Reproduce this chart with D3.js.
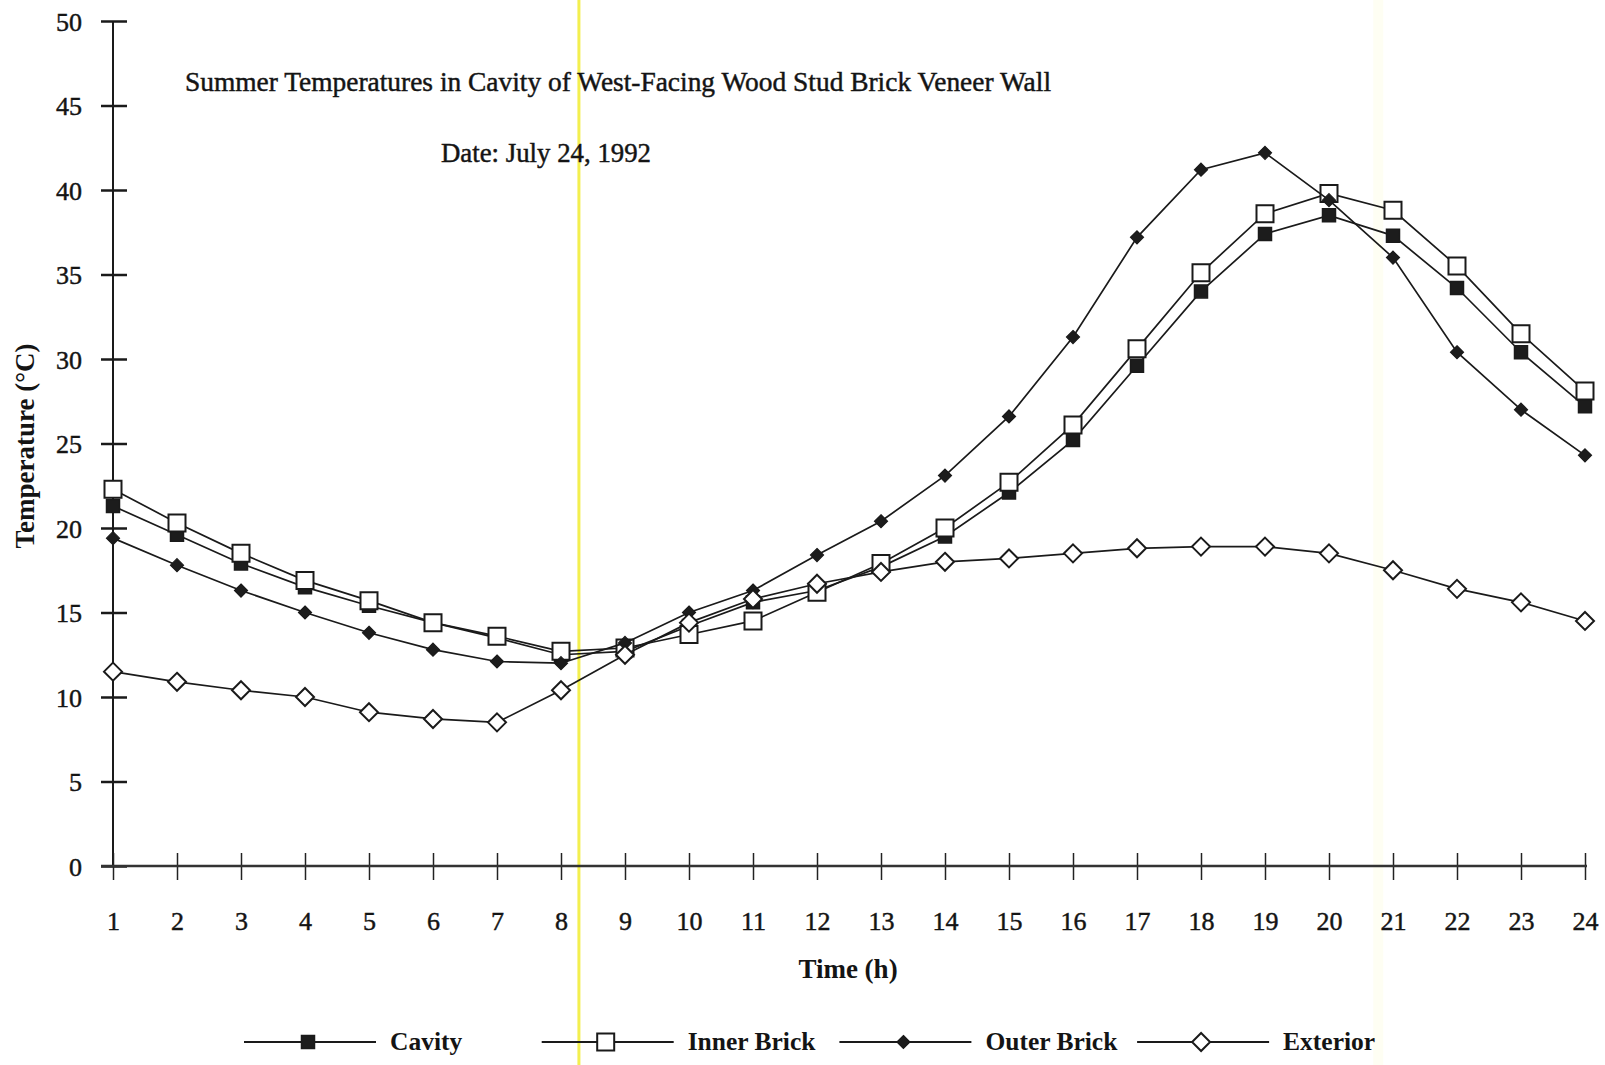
<!DOCTYPE html>
<html>
<head>
<meta charset="utf-8">
<title>Summer Temperatures in Cavity</title>
<script src="https://cdn.jsdelivr.net/npm/d3@7"></script>
<style>
  body { margin: 0; background: #fff; }
  svg text { font-family: "Liberation Serif", "Times New Roman", serif; fill: #141414; }
  .heavy { stroke: #141414; stroke-width: 0.45px; }
</style>
</head>
<body>
<script>
// hours on the x axis
var hours = d3.range(1, 25);
var yTicks = [0, 5, 10, 15, 20, 25, 30, 35, 40, 45, 50];

// temperatures (deg C)
var cavity   = [21.3, 19.6, 17.9, 16.5, 15.4, 14.4, 13.5, 12.5, 12.7, 14.2, 15.6, 16.3,
                17.7, 19.5, 22.1, 25.2, 29.6, 34.0, 37.4, 38.5, 37.3, 34.2, 30.4, 27.2];
var inner    = [22.3, 20.3, 18.5, 16.9, 15.7, 14.4, 13.6, 12.7, 12.9, 13.7, 14.5, 16.2,
                17.9, 20.0, 22.7, 26.1, 30.6, 35.1, 38.6, 39.8, 38.8, 35.5, 31.5, 28.1];
var outer    = [19.4, 17.8, 16.3, 15.0, 13.8, 12.8, 12.1, 12.0, 13.2, 15.0, 16.3, 18.4,
                20.4, 23.1, 26.6, 31.3, 37.2, 41.2, 42.2, 39.4, 36.0, 30.4, 27.0, 24.3];
var exterior = [11.5, 10.9, 10.4, 10.0, 9.1, 8.7, 8.5, 10.4, 12.5, 14.4, 15.8, 16.7,
                17.4, 18.0, 18.2, 18.5, 18.8, 18.9, 18.9, 18.5, 17.5, 16.4, 15.6, 14.5];

var seriesNames = ["Cavity", "Inner Brick", "Outer Brick", "Exterior"];

var width = 1605, height = 1065;

var svg = d3.select("body").append("svg")
    .attr("width", width)
    .attr("height", height);

var x = d3.scaleLinear().domain([1, 24]).range([113, 1585]);
var y = d3.scaleLinear().domain([0, 50]).range([866, 21]);

// scanner artefacts (yellow highlighter streaks)
svg.append("line")
    .attr("x1", x(20.77)).attr("x2", x(20.77)).attr("y1", 0).attr("y2", height)
    .attr("stroke", "#fefef3").attr("stroke-width", 10);
svg.append("line")
    .attr("x1", x(8.28)).attr("x2", x(8.28)).attr("y1", 0).attr("y2", height)
    .attr("stroke", "#f3ef4f").attr("stroke-width", 3);

// y axis
var yAxis = svg.append("g")
    .attr("transform", "translate(" + x(1) + ",0)")
    .call(d3.axisLeft(y).tickValues(yTicks).tickSize(0).tickPadding(0));
yAxis.select(".domain").remove();
yAxis.append("line").attr("x1", 0).attr("x2", 0).attr("y1", y(50)).attr("y2", y(0))
    .attr("stroke", "#1a1a1a").attr("stroke-width", 2);
yAxis.selectAll(".tick line").attr("x1", -12).attr("x2", 14)
    .attr("stroke", "#1a1a1a").attr("stroke-width", 2.5);
yAxis.selectAll(".tick text")
    .attr("class", "heavy")
    .attr("x", -31).attr("dy", "0.36em")
    .style("font-size", "26px").style("text-anchor", "end");

// x axis
var xAxis = svg.append("g")
    .attr("transform", "translate(0," + y(0) + ")")
    .call(d3.axisBottom(x).tickValues(hours).tickSize(0).tickPadding(0));
xAxis.select(".domain").remove();
xAxis.append("line").attr("x1", x(1) - 12).attr("x2", x(24) + 2).attr("y1", 0).attr("y2", 0)
    .attr("stroke", "#333").attr("stroke-width", 2.5);
xAxis.selectAll(".tick line").attr("y1", -13).attr("y2", 14)
    .attr("stroke", "#222").attr("stroke-width", 1.5);
xAxis.selectAll(".tick text")
    .attr("class", "heavy")
    .attr("y", 64).attr("dy", 0)
    .style("font-size", "26px");

// markers
function squarePath(s) {
  return "M" + (-s) + "," + (-s) + "H" + s + "V" + s + "H" + (-s) + "Z";
}
function diamondPath(s) {
  return "M0," + (-s) + "L" + s + ",0L0," + s + "L" + (-s) + ",0Z";
}
var styles = [
  { values: cavity,   path: squarePath(6.5),  fill: "#1c1c1c", sw: 1.5 },
  { values: inner,    path: squarePath(8.5),  fill: "#fff",    sw: 2 },
  { values: outer,    path: diamondPath(6.5), fill: "#1c1c1c", sw: 1.2 },
  { values: exterior, path: diamondPath(9),   fill: "#fff",    sw: 2 }
];

var line = d3.line()
    .x(function(d, i) { return x(hours[i]); })
    .y(function(d) { return y(d); });

styles.forEach(function(s) {
  svg.append("path")
      .datum(s.values)
      .attr("d", line)
      .attr("fill", "none")
      .attr("stroke", "#1a1a1a")
      .attr("stroke-width", 1.7);
  svg.selectAll(null)
      .data(s.values)
      .enter().append("path")
      .attr("transform", function(d, i) { return "translate(" + x(hours[i]) + "," + y(d) + ")"; })
      .attr("d", s.path)
      .attr("fill", s.fill)
      .attr("stroke", "#1a1a1a")
      .attr("stroke-width", s.sw);
});

// titles
svg.append("text")
    .attr("class", "heavy")
    .attr("x", 185).attr("y", 91)
    .attr("textLength", 866).attr("lengthAdjust", "spacingAndGlyphs")
    .style("font-size", "27.5px")
    .text("Summer Temperatures in Cavity of West-Facing Wood Stud Brick Veneer Wall");
svg.append("text")
    .attr("class", "heavy")
    .attr("x", 441).attr("y", 162)
    .attr("textLength", 210).attr("lengthAdjust", "spacingAndGlyphs")
    .style("font-size", "26.5px")
    .text("Date: July 24, 1992");

svg.append("text")
    .attr("transform", "translate(34,446) rotate(-90)")
    .style("font-size", "27px").style("font-weight", "bold")
    .style("text-anchor", "middle")
    .text("Temperature (°C)");

svg.append("text")
    .attr("x", 848).attr("y", 978)
    .style("font-size", "27px").style("font-weight", "bold")
    .style("text-anchor", "middle")
    .text("Time (h)");

// legend
var legendY = 1042;
var legend = svg.selectAll(".legend")
    .data(styles)
    .enter().append("g")
    .attr("class", "legend")
    .attr("transform", function(d, i) { return "translate(" + (244 + i * 297.7) + "," + legendY + ")"; });
legend.append("line")
    .attr("x1", 0).attr("x2", 132).attr("y1", 0).attr("y2", 0)
    .attr("stroke", "#1a1a1a").attr("stroke-width", 2);
legend.append("path")
    .attr("transform", "translate(64,0)")
    .attr("d", function(d) { return d.path; })
    .attr("fill", function(d) { return d.fill; })
    .attr("stroke", "#1a1a1a")
    .attr("stroke-width", function(d) { return d.sw; });
legend.append("text")
    .attr("x", 146).attr("y", 8)
    .style("font-size", "25.5px").style("font-weight", "bold")
    .text(function(d, i) { return seriesNames[i]; });
</script>
</body>
</html>
